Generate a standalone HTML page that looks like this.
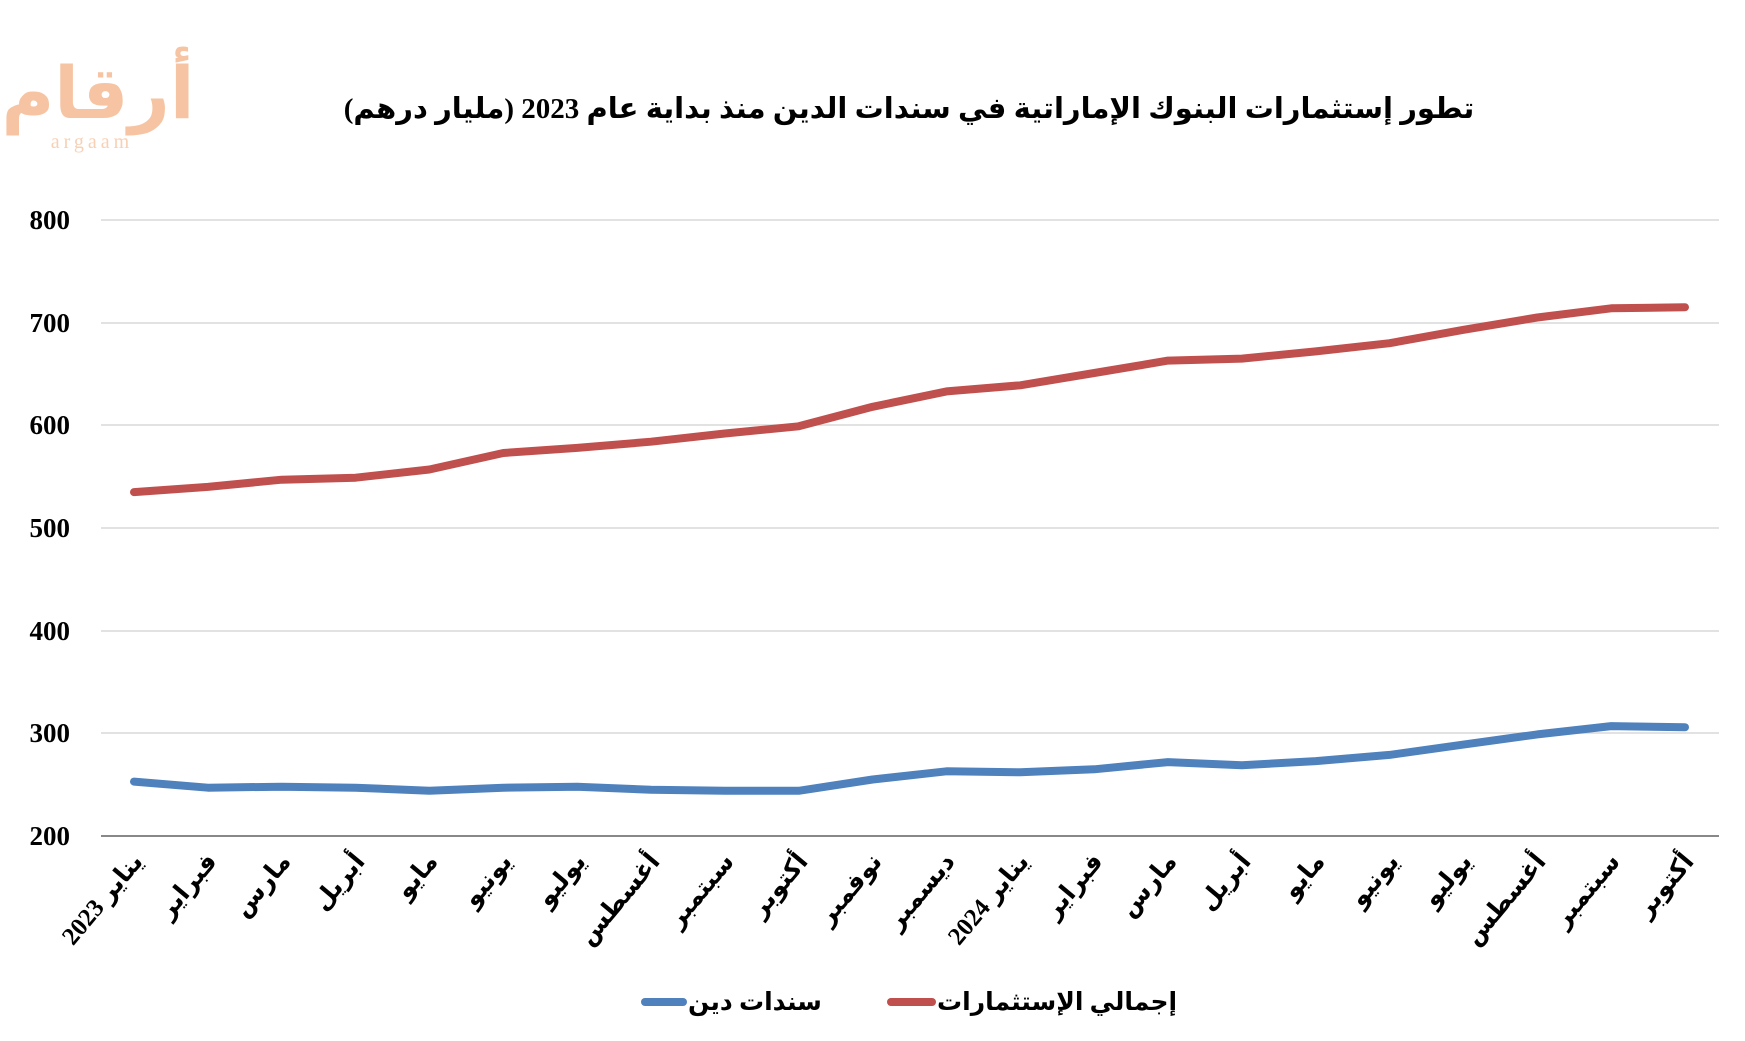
<!DOCTYPE html>
<html><head><meta charset="utf-8"><style>
html,body{margin:0;padding:0;background:#fff;}
svg{display:block;}
text{font-family:"Liberation Serif","DejaVu Sans",serif;font-weight:bold;fill:#000;}
</style></head><body>
<svg width="1745" height="1041" viewBox="0 0 1745 1041" xmlns="http://www.w3.org/2000/svg">
<text x="98" y="118" font-size="72" text-anchor="middle" style="fill:#f4b183;opacity:0.75">أرقام</text>
<text x="92" y="148" font-size="20" text-anchor="middle" style="fill:#f4b183;opacity:0.6;font-weight:normal;letter-spacing:4px" font-family="Liberation Sans">argaam</text>
<text x="909" y="118" font-size="29" text-anchor="middle" direction="rtl">تطور إستثمارات البنوك الإماراتية في سندات الدين  منذ بداية عام 2023 (مليار درهم)</text>
<g stroke="#d9d9d9" stroke-width="1.5">
<line x1="101" x2="1719" y1="220" y2="220"/><line x1="101" x2="1719" y1="323" y2="323"/><line x1="101" x2="1719" y1="425" y2="425"/><line x1="101" x2="1719" y1="528" y2="528"/><line x1="101" x2="1719" y1="631" y2="631"/><line x1="101" x2="1719" y1="733" y2="733"/>
</g>
<line x1="101" x2="1719" y1="836" y2="836" stroke="#888" stroke-width="2"/>
<g font-size="27" text-anchor="end">
<text x="70" y="229">800</text><text x="70" y="332">700</text><text x="70" y="434">600</text><text x="70" y="537">500</text><text x="70" y="640">400</text><text x="70" y="742">300</text><text x="70" y="845">200</text>
</g>
<polyline fill="none" stroke="#c0504d" stroke-width="8" stroke-linecap="round" stroke-linejoin="round" points="134,492.1 207.9,486.9 281.7,479.7 355.6,477.7 429.4,469.5 503.3,453 577.2,447.9 651,441.7 724.9,433.5 798.7,426.3 872.6,406.8 946.5,391.4 1020.3,385.3 1094.2,373 1168,360.6 1241.9,358.6 1315.8,351.4 1389.6,343.2 1463.5,329.8 1537.3,317.5 1611.2,308.3 1685,307.2"/>
<polyline fill="none" stroke="#4f81bd" stroke-width="8" stroke-linecap="round" stroke-linejoin="round" points="134,781.6 207.9,787.7 281.7,786.7 355.6,787.7 429.4,790.8 503.3,787.7 577.2,786.7 651,789.8 724.9,790.8 798.7,790.8 872.6,779.5 946.5,771.3 1020.3,772.3 1094.2,769.3 1168,762.1 1241.9,765.2 1315.8,761.1 1389.6,754.9 1463.5,744.6 1537.3,734.4 1611.2,726.1 1685,727.2"/>
<g font-size="25" text-anchor="end">
<text transform="translate(144,862) rotate(-50)">يناير 2023</text>
<text transform="translate(218,862) rotate(-50)">فبراير</text>
<text transform="translate(292,862) rotate(-50)">مارس</text>
<text transform="translate(366,862) rotate(-50)">أبريل</text>
<text transform="translate(439,862) rotate(-50)">مايو</text>
<text transform="translate(513,862) rotate(-50)">يونيو</text>
<text transform="translate(587,862) rotate(-50)">يوليو</text>
<text transform="translate(661,862) rotate(-50)">أغسطس</text>
<text transform="translate(735,862) rotate(-50)">سبتمبر</text>
<text transform="translate(809,862) rotate(-50)">أكتوبر</text>
<text transform="translate(883,862) rotate(-50)">نوفمبر</text>
<text transform="translate(956,862) rotate(-50)">ديسمبر</text>
<text transform="translate(1030,862) rotate(-50)">يناير 2024</text>
<text transform="translate(1104,862) rotate(-50)">فبراير</text>
<text transform="translate(1178,862) rotate(-50)">مارس</text>
<text transform="translate(1252,862) rotate(-50)">أبريل</text>
<text transform="translate(1326,862) rotate(-50)">مايو</text>
<text transform="translate(1400,862) rotate(-50)">يونيو</text>
<text transform="translate(1473,862) rotate(-50)">يوليو</text>
<text transform="translate(1547,862) rotate(-50)">أغسطس</text>
<text transform="translate(1621,862) rotate(-50)">سبتمبر</text>
<text transform="translate(1695,862) rotate(-50)">أكتوبر</text>
</g>
<line x1="645" x2="683" y1="1002" y2="1002" stroke="#4f81bd" stroke-width="8" stroke-linecap="round"/>
<text x="688" y="1010" font-size="25">سندات دين</text>
<line x1="891" x2="932" y1="1002" y2="1002" stroke="#c0504d" stroke-width="8" stroke-linecap="round"/>
<text x="937" y="1010" font-size="25">إجمالي الإستثمارات</text>
</svg>
</body></html>
